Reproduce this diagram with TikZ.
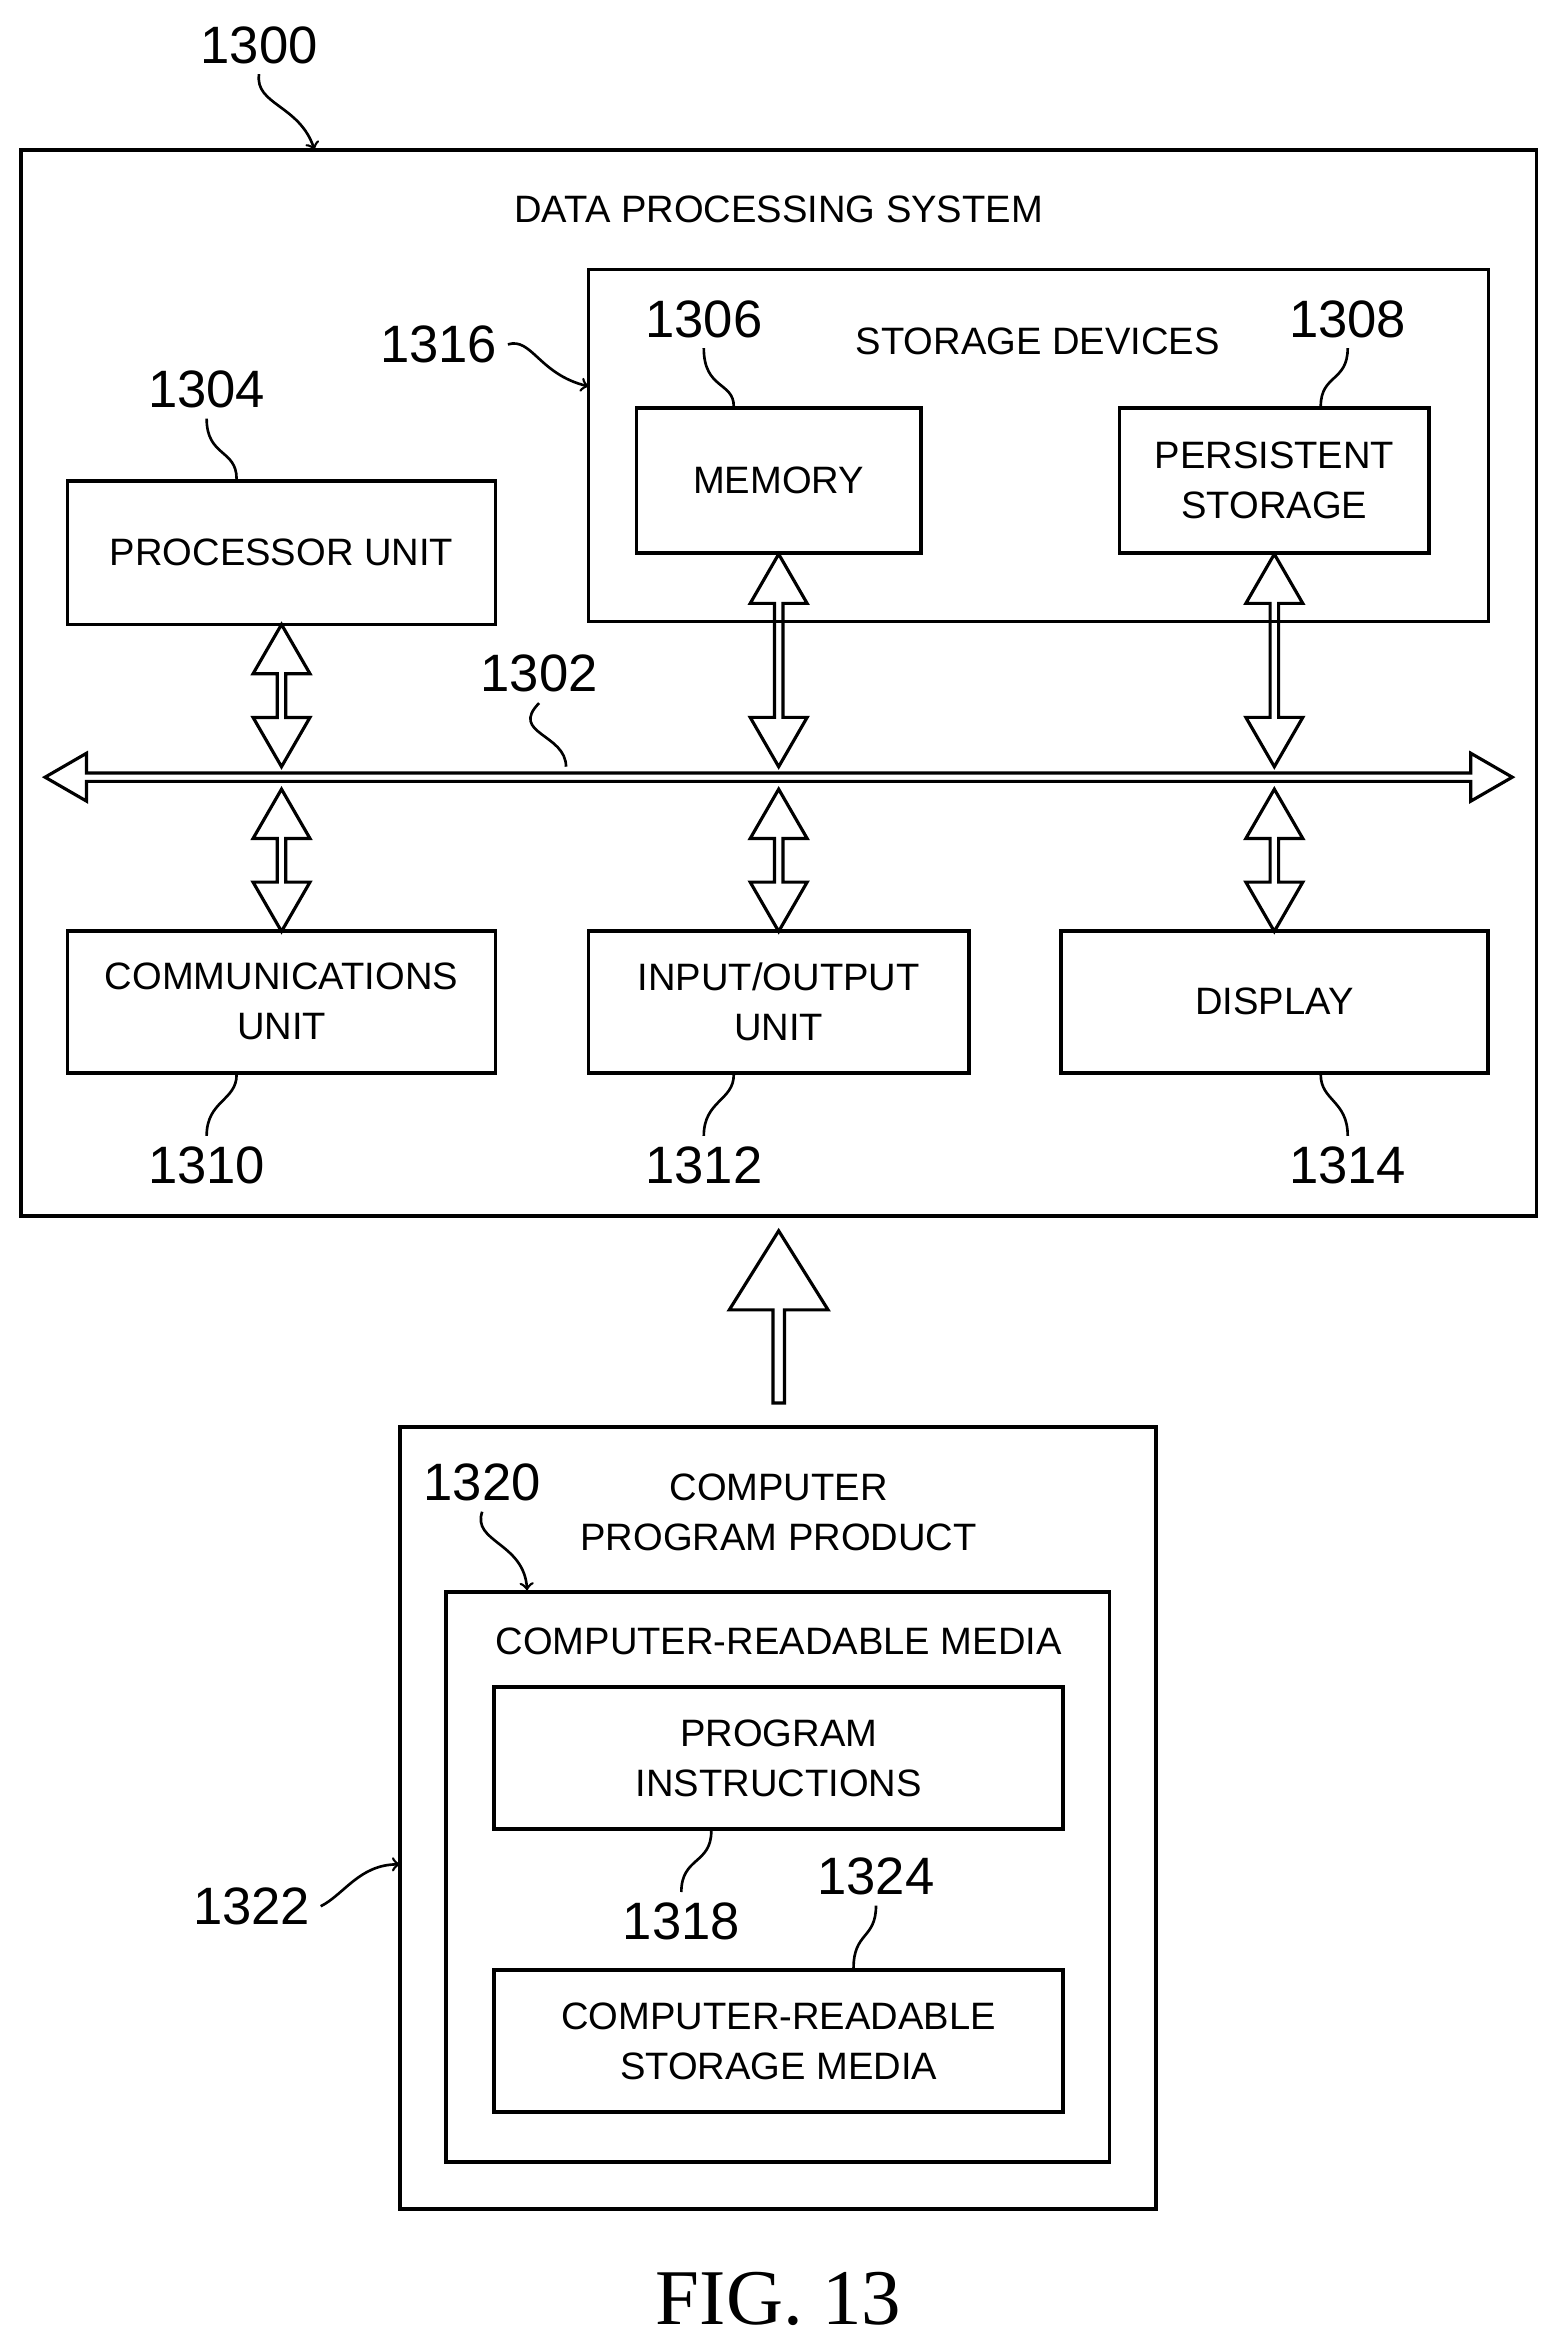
\documentclass[tikz,border=0pt]{standalone}
\usepackage{fontspec}
\setmainfont{Liberation Sans}
\usetikzlibrary{shapes.arrows}

\begin{document}
\begin{tikzpicture}[x=0.02cm,y=-0.02cm,line width=1.4pt,
    box/.style={draw,align=center,font=\fontsize{14.5}{19}\selectfont,inner sep=0pt},
    txt/.style={align=center,font=\fontsize{14.5}{19}\selectfont},
    num/.style={font=\fontsize{20}{22}\selectfont},
    lead/.style={line width=1pt},
    dbl/.style={draw,double arrow,line width=1.2pt,minimum width=0.76cm,
      double arrow head extend=0.12cm,double arrow tip angle=60,
      shape border rotate=90,inner sep=0pt}]
  \useasboundingbox (0,0) rectangle (1040,1566);

  % data processing system
  \draw (14,100) rectangle (1026,812);
  \node[txt] (dps) at (520,140) {DATA PROCESSING SYSTEM};
  \node[num] (n1300) at (173,30) {1300};
  \coordinate (c1300) at (210,100);
  \draw[lead,->] (n1300.south) .. controls (170,70) and (200,70) .. (c1300);

  % storage devices
  \draw (393,180) rectangle (994,415);
  \node[txt] (sd) at (693,228) {STORAGE DEVICES};
  \node[num] (n1316) at (293,230) {1316};
  \coordinate (c1316) at (393,258);
  \draw[lead,->] (n1316.east) .. controls (355,225) and (360,250) .. (c1316);

  \node[box,minimum width=3.8cm,minimum height=1.94cm] (mem) at (520,321) {MEMORY};
  \node[box,minimum width=4.14cm,minimum height=1.94cm] (ps) at (851,321) {PERSISTENT\\STORAGE};
  \node[box,minimum width=5.72cm,minimum height=1.92cm] (pu) at (188,369) {PROCESSOR UNIT};
  \node[num] (n1306) at (470,213) {1306};
  \node[num] (n1308) at (900,213) {1308};
  \node[num] (n1304) at (138,260) {1304};
  \draw[lead] (n1306.south) .. controls (470,260) and (490,255) .. (mem.north -| 490,0);
  \draw[lead] (n1308.south) .. controls (900,255) and (882,250) .. (ps.north -| 882,0);
  \draw[lead] (n1304.south) .. controls (138,305) and (158,300) .. (pu.north -| 158,0);

  % bus
  \node[dbl,shape border rotate=0,minimum height=19.6cm,minimum width=0.64cm,
    double arrow head extend=0.1cm] (bus) at (520,519) {};
  \node[num] (n1302) at (360,450) {1302};
  \coordinate (c1302) at (378,512);
  \draw[lead] (n1302.south) .. controls (340,490) and (378,490) .. (c1302);

  % bottom units
  \node[box,minimum width=5.72cm,minimum height=1.9cm] (cu) at (188,669) {COMMUNICATIONS\\UNIT};
  \node[box,minimum width=5.08cm,minimum height=1.9cm] (io) at (520,669) {INPUT/OUTPUT\\UNIT};
  \node[box,minimum width=5.7cm,minimum height=1.9cm] (disp) at (851,669) {DISPLAY};
  \node[num] (n1310) at (138,778) {1310};
  \node[num] (n1312) at (470,778) {1312};
  \node[num] (n1314) at (900,778) {1314};
  \draw[lead] (cu.south -| 158,0) .. controls (158,735) and (138,735) .. (n1310.north);
  \draw[lead] (io.south -| 490,0) .. controls (490,735) and (470,735) .. (n1312.north);
  \draw[lead] (disp.south -| 882,0) .. controls (882,735) and (900,735) .. (n1314.north);

  % bus connections
  \node[dbl,minimum height=1.9cm] (a1) at (188,464.5) {};
  \node[dbl,minimum height=2.84cm] (a2) at (520,441) {};
  \node[dbl,minimum height=2.84cm] (a3) at (851,441) {};
  \foreach \x/\n in {188/b1,520/b2,851/b3}
    \node[dbl,minimum height=1.9cm] (\n) at (\x,574.5) {};

  % big arrow
  \node[draw,single arrow,line width=1.2pt,minimum height=2.3cm,minimum width=1.32cm,
    single arrow head extend=0.16cm,single arrow tip angle=64,shape border rotate=90,
    inner sep=0pt] (up) at (520,882.5) {};

  % computer program product
  \draw (267,953) rectangle (772,1475);
  \node[txt] (cpp) at (520,1010) {COMPUTER\\PROGRAM PRODUCT};
  \node[num] (n1320) at (322,990) {1320};
  \coordinate (c1320) at (352,1062);
  \draw[lead,->] (n1320.south) .. controls (315,1030) and (350,1030) .. (c1320);
  \node[num] (n1322) at (168,1273) {1322};
  \coordinate (c1322) at (267,1245);
  \draw[lead,->] (n1322.east) .. controls (230,1265) and (240,1245) .. (c1322);

  \draw (298,1063) rectangle (741,1444);
  \node[txt] (crm) at (520,1096) {COMPUTER-READABLE MEDIA};
  \node[box,minimum width=7.6cm,minimum height=1.9cm] (pi) at (520,1174) {PROGRAM\\INSTRUCTIONS};
  \node[box,minimum width=7.6cm,minimum height=1.9cm] (crsm) at (520,1363) {COMPUTER-READABLE\\STORAGE MEDIA};
  \node[num] (n1318) at (455,1283) {1318};
  \node[num] (n1324) at (585,1253) {1324};
  \draw[lead] (pi.south -| 475,0) .. controls (475,1245) and (455,1240) .. (n1318.north);
  \draw[lead] (n1324.south) .. controls (585,1295) and (570,1290) .. (crsm.north -| 570,0);

  \node[font=\fontsize{30}{32}\selectfont] (fig) at (520,1535)
    {\setmainfont{Liberation Serif}\rmfamily FIG. 13};
\end{tikzpicture}
\end{document}
